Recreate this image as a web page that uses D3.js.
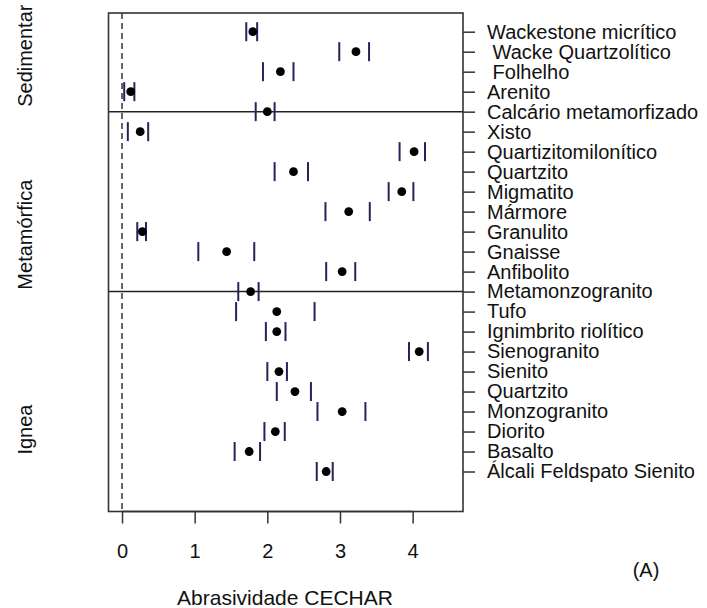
<!DOCTYPE html>
<html>
<head>
<meta charset="utf-8">
<script src="https://cdn.jsdelivr.net/npm/d3@7"></script>
<style>
  html, body { margin: 0; padding: 0; background: #fff; }
  svg text { font-family: "Liberation Sans", Arial, sans-serif; fill: #111; white-space: pre; }
</style>
</head>
<body>
<svg id="chart" width="707" height="608"></svg>
<script>
// Rock types, listed top to bottom
const rocks = [
  "Wackestone micrítico", " Wacke Quartzolítico", " Folhelho", "Arenito",
  "Calcário metamorfizado", "Xisto", "Quartizitomilonítico", "Quartzito",
  "Migmatito", "Mármore", "Granulito", "Gnaisse", "Anfibolito",
  "Metamonzogranito", "Tufo", "Ignimbrito riolítico", "Sienogranito",
  "Sienito", "Quartzito", "Monzogranito", "Diorito", "Basalto",
  "Álcali Feldspato Sienito"
];
// Mean CERCHAR abrasivity and interval limits per rock
const meanCAI = [1.80, 3.22, 2.18, 0.12, 2.00, 0.25, 4.02, 2.36, 3.85, 3.12, 0.28, 1.44, 3.03, 1.77, 2.13, 2.13, 4.09, 2.16, 2.38, 3.03, 2.11, 1.75, 2.81];
const lowerCAI = [1.71, 2.99, 1.94, 0.03, 1.84, 0.08, 3.82, 2.10, 3.67, 2.80, 0.21, 1.05, 2.81, 1.60, 1.57, 1.98, 3.95, 2.00, 2.13, 2.69, 1.96, 1.55, 2.68];
const upperCAI = [1.86, 3.40, 2.36, 0.17, 2.10, 0.36, 4.17, 2.56, 4.01, 3.41, 0.33, 1.82, 3.21, 1.88, 2.65, 2.25, 4.21, 2.27, 2.60, 3.35, 2.24, 1.90, 2.90];
// Rock classes and the rows where the dividing lines are drawn
const classes = ["Sedimentar", "Metamórfica", "Ignea"];
const dividerRows = [4, 13];
const xTicks = [0, 1, 2, 3, 4];

const svg = d3.select("#chart");
const L = 108.5, R = 463, T = 13, B = 511.5;

const x = d3.scaleLinear().domain([-0.186, 4.693]).range([L, R]);
const y = d3.scaleLinear().domain([-0.935, 24]).range([T, B]);

// class label centres, in row units
const classPos = [1.2, 10.15, 19.9];

// dashed reference at zero
svg.append("line")
  .attr("x1", x(0)).attr("x2", x(0))
  .attr("y1", T).attr("y2", B)
  .attr("stroke", "#333").attr("stroke-width", 1.5)
  .attr("stroke-dasharray", "6,4");

// dividers between rock classes
svg.selectAll("line.div").data(dividerRows).join("line")
  .attr("class", "div")
  .attr("x1", L).attr("x2", R)
  .attr("y1", d => y(d)).attr("y2", d => y(d))
  .attr("stroke", "#222").attr("stroke-width", 1.5);

const rows = rocks.map((name, i) => ({ name, i, m: meanCAI[i], lo: lowerCAI[i], hi: upperCAI[i] }));

// interval limits
const barH = 9.5;
const limits = rows.flatMap(r => [{ v: r.lo, i: r.i }, { v: r.hi, i: r.i }]);
svg.selectAll("line.lim").data(limits).join("line")
  .attr("class", "lim")
  .attr("x1", d => x(d.v)).attr("x2", d => x(d.v))
  .attr("y1", d => y(d.i) - barH).attr("y2", d => y(d.i) + barH)
  .attr("stroke", "#2b2058").attr("stroke-width", 2);

// means
svg.selectAll("circle.mean").data(rows).join("circle")
  .attr("class", "mean")
  .attr("cx", d => x(d.m)).attr("cy", d => y(d.i))
  .attr("r", 4.4).attr("fill", "#000");

// box
svg.append("rect")
  .attr("x", L).attr("y", T).attr("width", R - L).attr("height", B - T)
  .attr("fill", "none").attr("stroke", "#333").attr("stroke-width", 1.6);

// bottom axis
const xAxis = svg.append("g").attr("transform", `translate(0,${B})`)
  .call(d3.axisBottom(x).tickValues(xTicks).tickFormat(d3.format("d")).tickSize(12).tickPadding(20));
xAxis.select(".domain").attr("d", `M${x(0)},0H${x(4)}`).attr("stroke", "#333").attr("stroke-width", 1.5);
xAxis.selectAll(".tick line").attr("stroke", "#333").attr("stroke-width", 1.5);
xAxis.selectAll(".tick text").attr("font-size", 20).attr("font-family", "Liberation Sans, Arial, sans-serif").attr("fill", "#111");

// right axis with rock names
const yAxis = svg.append("g").attr("transform", `translate(${R},0)`)
  .call(d3.axisRight(y).tickValues(d3.range(rocks.length)).tickFormat(i => rocks[i]).tickSize(12).tickPadding(12));
yAxis.select(".domain").remove();
yAxis.selectAll(".tick line").attr("stroke", "#333").attr("stroke-width", 1.5);
yAxis.selectAll(".tick text").attr("font-size", 20).attr("font-family", "Liberation Sans, Arial, sans-serif").attr("fill", "#111");

// class labels on the left
svg.selectAll("text.cls").data(classes).join("text")
  .attr("class", "cls")
  .attr("transform", (d, k) => `translate(32,${y(classPos[k])}) rotate(-90)`)
  .attr("text-anchor", "middle")
  .attr("font-size", 20)
  .text(d => d);

// axis title and panel tag
svg.append("text")
  .attr("x", 285).attr("y", 605)
  .attr("text-anchor", "middle").attr("font-size", 21)
  .text("Abrasividade CECHAR");
svg.append("text")
  .attr("x", 646).attr("y", 577)
  .attr("text-anchor", "middle").attr("font-size", 20)
  .text("(A)");
</script>
</body>
</html>
